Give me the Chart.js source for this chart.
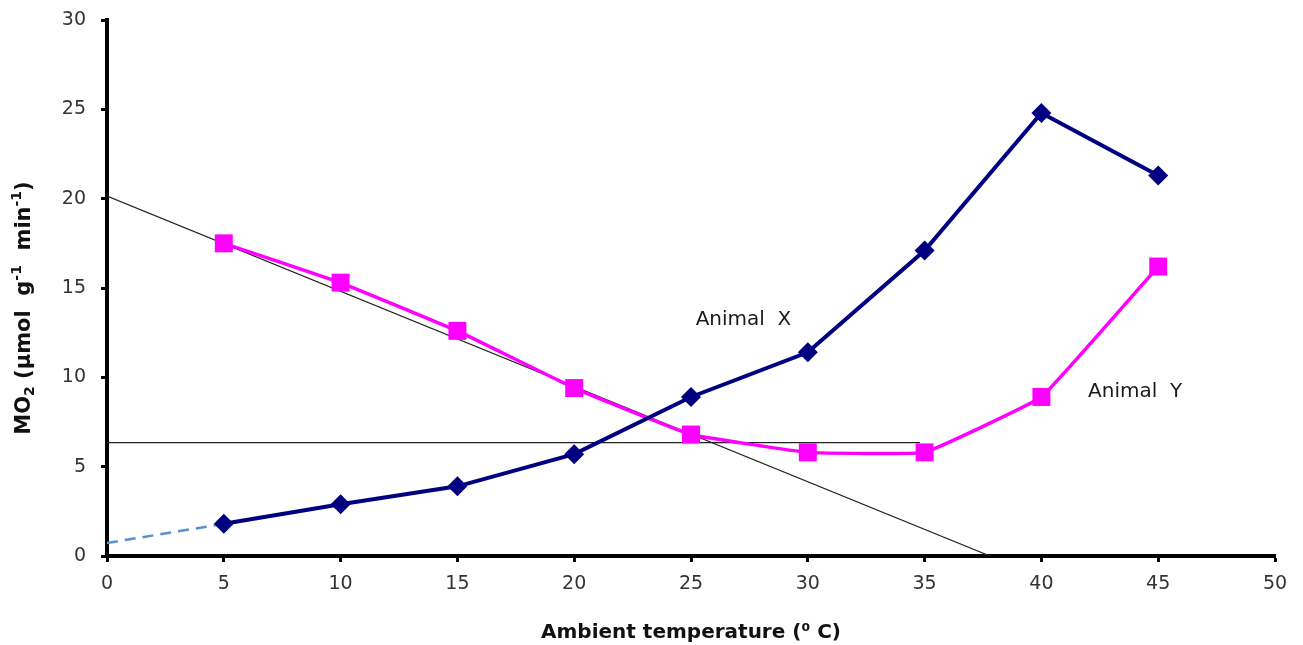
<!DOCTYPE html>
<html>
<head>
<meta charset="utf-8">
<script src="https://cdn.jsdelivr.net/npm/chart.js@4/dist/chart.umd.min.js"></script>
<style>
  html, body { margin: 0; padding: 0; background: #fff; }
  #wrap { width: 1303px; height: 645px; position: relative; }
</style>
</head>
<body>
<div id="wrap"><canvas id="c" width="1303" height="645"></canvas></div>
<script>
// ---- data ----
const temps = [5, 10, 15, 20, 25, 30, 35, 40, 45];
const animalX = [1.8, 2.9, 3.9, 5.7, 8.9, 11.4, 17.1, 24.8, 21.3];
const animalY = [17.5, 15.3, 12.6, 9.4, 6.8, 5.8, 5.8, 8.9, 16.2];
const extrapX = [0, 5];
const extrapY = [0.73, 1.8];
const slopeLineX = [0, 37.8];
const slopeLineY = [20.15, 0];
const flatLineX = [0, 34.8];
const flatLineY = [6.35, 6.35];
const xTicks = [0, 5, 10, 15, 20, 25, 30, 35, 40, 45, 50];
const yTicks = [0, 5, 10, 15, 20, 25, 30];
const labels = [
  { text: 'Animal  X', x: 25.2, y: 13.2 },
  { text: 'Animal  Y', x: 42.0, y: 9.18 }
];
// y-axis title pieces: [text, kind] kind: n = normal, sub, sup
const yTitleParts = [['MO', 'n'], ['2', 'sub'], [' (µmol  g', 'n'], ['-1', 'sup'], ['  min', 'n'], ['-1', 'sup'], [')', 'n']];

const FONT = '"DejaVu Sans", Verdana, sans-serif';
const pts = (xs, ys) => xs.map((x, i) => ({ x: x, y: ys[i] }));

const annotationPlugin = {
  id: 'textLabels',
  afterDatasetsDraw(chart) {
    const ctx = chart.ctx;
    const xs = chart.scales.x, ys = chart.scales.y;
    ctx.save();
    ctx.font = '20px ' + FONT;
    ctx.fillStyle = '#1a1a1a';
    ctx.textAlign = 'left';
    ctx.textBaseline = 'middle';
    labels.forEach(l => {
      ctx.fillText(l.text, xs.getPixelForValue(l.x), ys.getPixelForValue(l.y));
    });
    ctx.restore();
  }
};

const yTitlePlugin = {
  id: 'yTitle',
  afterDraw(chart) {
    const ctx = chart.ctx;
    const area = chart.chartArea;
    const big = 'bold 21px ' + FONT;
    const small = 'bold 14px ' + FONT;
    ctx.save();
    let total = 0;
    yTitleParts.forEach(p => {
      ctx.font = p[1] === 'n' ? big : small;
      total += ctx.measureText(p[0]).width;
    });
    const cy = 308;
    ctx.translate(30, cy);
    ctx.rotate(-Math.PI / 2);
    ctx.fillStyle = '#111';
    ctx.textBaseline = 'alphabetic';
    ctx.textAlign = 'left';
    let x = -total / 2;
    yTitleParts.forEach(p => {
      ctx.font = p[1] === 'n' ? big : small;
      const dy = p[1] === 'sub' ? 4 : (p[1] === 'sup' ? -9 : 0);
      ctx.fillText(p[0], x, dy);
      x += ctx.measureText(p[0]).width;
    });
    ctx.restore();
  }
};

new Chart(document.getElementById('c'), {
  type: 'scatter',
  data: {
    datasets: [
      {
        label: 'Trend',
        data: pts(slopeLineX, slopeLineY),
        showLine: true,
        borderColor: '#222',
        borderWidth: 1.2,
        pointRadius: 0,
        order: 5
      },
      {
        label: 'Level',
        data: pts(flatLineX, flatLineY),
        showLine: true,
        borderColor: '#222',
        borderWidth: 1.2,
        pointRadius: 0,
        order: 5
      },
      {
        label: 'Extrapolation',
        data: pts(extrapX, extrapY),
        showLine: true,
        borderColor: '#5b8fd0',
        borderWidth: 2.5,
        borderDash: [11, 7],
        pointRadius: 0,
        order: 4
      },
      {
        label: 'Animal Y',
        data: pts(temps, animalY),
        showLine: true,
        borderColor: '#ff00ff',
        backgroundColor: '#ff00ff',
        borderWidth: 3.5,
        tension: 0.08,
        pointStyle: 'rect',
        pointRadius: 12.7,
        pointBorderWidth: 0,
        order: 2
      },
      {
        label: 'Animal X',
        data: pts(temps, animalX),
        showLine: true,
        borderColor: '#000080',
        backgroundColor: '#000080',
        borderWidth: 4,
        pointStyle: 'rectRot',
        pointRadius: 10,
        pointBorderWidth: 0,
        order: 1
      }
    ]
  },
  options: {
    responsive: false,
    animation: false,
    layout: { padding: { left: 0, top: 20, right: 28, bottom: 0 } },
    plugins: {
      legend: { display: false },
      tooltip: { enabled: false }
    },
    scales: {
      x: {
        type: 'linear',
        min: 0, max: 50,
        afterBuildTicks: s => { s.ticks = xTicks.map(v => ({ value: v })); },
        afterFit: s => { s.height = 89; s.paddingLeft = 0; s.paddingRight = 0; },
        border: { color: '#000', width: 4 },
        grid: { drawOnChartArea: false, drawTicks: true, tickLength: 6, tickColor: '#000', tickWidth: 3 },
        ticks: {
          color: '#333',
          font: { family: FONT, size: 19 },
          padding: 11
        },
        title: {
          display: true,
          text: 'Ambient temperature (⁰ C)',
          color: '#111',
          font: { family: FONT, size: 20, weight: 'bold' },
          padding: { top: 10, bottom: 0 }
        }
      },
      y: {
        type: 'linear',
        min: 0, max: 30,
        afterBuildTicks: s => { s.ticks = yTicks.map(v => ({ value: v })); },
        afterFit: s => { s.width = 107; s.paddingTop = 0; s.paddingBottom = 0; },
        border: { color: '#000', width: 4 },
        grid: { drawOnChartArea: false, drawTicks: true, tickLength: 6, tickColor: '#000', tickWidth: 3 },
        ticks: {
          color: '#333',
          font: { family: FONT, size: 19 },
          padding: 15
        },
        title: { display: false }
      }
    }
  },
  plugins: [annotationPlugin, yTitlePlugin]
});
</script>
</body>
</html>
